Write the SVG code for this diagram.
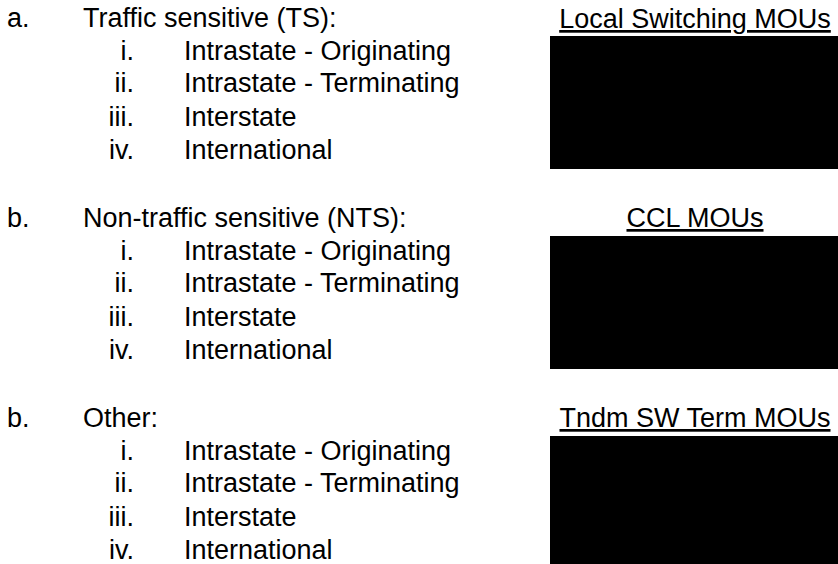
<svg xmlns="http://www.w3.org/2000/svg" width="838" height="564" viewBox="0 0 838 564">
<style>
text{font-family:"Liberation Sans",Arial,sans-serif;font-size:27px;fill:#000}
.num{text-anchor:end}
.hdr{text-anchor:middle;text-decoration:underline}
.box{fill:#000}
</style>
<rect width="838" height="564" fill="#fff"/>
<g id="section-a">
<text x="7" y="27">a.</text>
<text x="83" y="27">Traffic sensitive (TS):</text>
<text class="num" x="134" y="60">i.</text><text x="184" y="60">Intrastate - Originating</text>
<text class="num" x="134" y="92">ii.</text><text x="184" y="92">Intrastate - Terminating</text>
<text class="num" x="134" y="126">iii.</text><text x="184" y="126">Interstate</text>
<text class="num" x="134" y="159">iv.</text><text x="184" y="159">International</text>
</g>
<g id="section-b">
<text x="7" y="227">b.</text>
<text x="83" y="227">Non-traffic sensitive (NTS):</text>
<text class="num" x="134" y="260">i.</text><text x="184" y="260">Intrastate - Originating</text>
<text class="num" x="134" y="292">ii.</text><text x="184" y="292">Intrastate - Terminating</text>
<text class="num" x="134" y="326">iii.</text><text x="184" y="326">Interstate</text>
<text class="num" x="134" y="359">iv.</text><text x="184" y="359">International</text>
</g>
<g id="section-c">
<text x="7" y="427">b.</text>
<text x="83" y="427">Other:</text>
<text class="num" x="134" y="460">i.</text><text x="184" y="460">Intrastate - Originating</text>
<text class="num" x="134" y="492">ii.</text><text x="184" y="492">Intrastate - Terminating</text>
<text class="num" x="134" y="526">iii.</text><text x="184" y="526">Interstate</text>
<text class="num" x="134" y="559">iv.</text><text x="184" y="559">International</text>
</g>
<g id="local-switching">
<text class="hdr" x="695" y="28">Local Switching MOUs</text>
<rect class="box" x="550" y="36" width="288" height="133"/>
</g>
<g id="ccl">
<text class="hdr" x="695" y="227">CCL MOUs</text>
<rect class="box" x="550" y="236" width="288" height="133"/>
</g>
<g id="tandem">
<text class="hdr" x="695" y="427">Tndm SW Term MOUs</text>
<rect class="box" x="550" y="436" width="288" height="128"/>
</g>
<g id="connectors"/>
</svg>
